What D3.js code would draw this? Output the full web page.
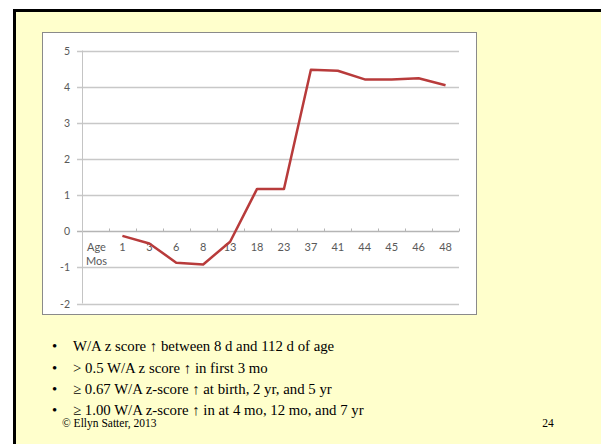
<!DOCTYPE html>
<html>
<head>
<meta charset="utf-8">
<script src="https://cdn.jsdelivr.net/npm/d3@7"></script>
<style>
  html, body { margin: 0; padding: 0; background: #fff; }
  svg { display: block; }
</style>
</head>
<body>
<svg id="slide" width="601" height="444"></svg>
<script>
// data
const categories = ["Age", "1", "3", "6", "8", "13", "18", "23", "37", "41", "44", "45", "46", "48"];
const zScores = [null, -0.13, -0.34, -0.87, -0.92, -0.29, 1.17, 1.17, 4.47, 4.44, 4.2, 4.2, 4.23, 4.04];
const yTicks = [-2, -1, 0, 1, 2, 3, 4, 5];
const bullets = [
  "W/A z score \u2191 between 8 d and 112 d of age",
  "> 0.5 W/A z score \u2191 in first 3 mo",
  "\u2265 0.67 W/A z-score \u2191 at birth, 2 yr, and 5 yr",
  "\u2265 1.00 W/A z-score \u2191 in at 4 mo, 12 mo, and 7 yr"
];
const footer = "\u00A9 Ellyn Satter, 2013";
const pageNo = "24";

const svg = d3.select("#slide");

// slide background with the black frame
svg.append("rect")
  .attr("x", 14.5).attr("y", 10.5)
  .attr("width", 620).attr("height", 460)
  .attr("fill", "#ffffcc")
  .attr("stroke", "#000")
  .attr("stroke-width", 3);

// chart box
svg.append("rect")
  .attr("x", 42.5).attr("y", 32.5)
  .attr("width", 434).attr("height", 282)
  .attr("fill", "#fff")
  .attr("stroke", "#8a8a8a")
  .attr("stroke-width", 1);

const x = d3.scaleBand().domain(categories).range([82, 459]);
const y = d3.scaleLinear().domain([-2, 5]).range([303.5, 50.5]);

const labelFont = "Lato, 'Open Sans', sans-serif";

// horizontal grid
svg.append("g")
  .selectAll("line")
  .data(yTicks)
  .join("line")
  .attr("x1", 77).attr("x2", 459)
  .attr("y1", d => Math.round(y(d)) + 0.5)
  .attr("y2", d => Math.round(y(d)) + 0.5)
  .attr("stroke", d => d === 0 ? "#b5b5b5" : "#c8c8c8")
  .attr("stroke-width", 1.3);

// vertical axis
svg.append("line")
  .attr("x1", 82.5).attr("x2", 82.5)
  .attr("y1", y(5)).attr("y2", y(-2))
  .attr("stroke", "#c4c4c4");

// y tick labels
svg.append("g")
  .selectAll("text")
  .data(yTicks)
  .join("text")
  .attr("x", 70)
  .attr("y", d => y(d) + 4)
  .attr("text-anchor", "end")
  .attr("font-family", labelFont)
  .attr("font-size", 10.5)
  .attr("fill", "#595959")
  .text(d => d);

// category ticks on the zero line
const zeroY = Math.round(y(0)) + 0.5;
svg.append("g")
  .selectAll("line")
  .data(categories.slice(1).concat(["end"]))
  .join("line")
  .attr("x1", (d, i) => Math.round(x.range()[0] + x.step() * (i + 1)) + 0.5)
  .attr("x2", (d, i) => Math.round(x.range()[0] + x.step() * (i + 1)) + 0.5)
  .attr("y1", zeroY - 3).attr("y2", zeroY)
  .attr("stroke", "#b5b5b5");

// category labels
svg.append("g")
  .selectAll("text")
  .data(categories)
  .join("text")
  .attr("x", d => x(d) + x.bandwidth() / 2 + (d === "Age" ? 1 : 0))
  .attr("y", y(0) + 20)
  .attr("text-anchor", "middle")
  .attr("font-family", labelFont)
  .attr("font-size", 11)
  .attr("fill", "#595959")
  .text(d => d);

svg.append("text")
  .attr("x", x("Age") + x.bandwidth() / 2 + 1)
  .attr("y", y(0) + 34)
  .attr("text-anchor", "middle")
  .attr("font-family", labelFont)
  .attr("font-size", 11)
  .attr("fill", "#595959")
  .text("Mos");

// the z-score line
const points = categories.map((c, i) => ({ c, v: zScores[i] }));
const line = d3.line()
  .defined(d => d.v !== null)
  .x(d => x(d.c) + x.bandwidth() / 2)
  .y(d => y(d.v));

svg.append("path")
  .datum(points)
  .attr("fill", "none")
  .attr("stroke", "#b83b3b")
  .attr("stroke-width", 2.5)
  .attr("stroke-linejoin", "round")
  .attr("d", line);

// bullet text
const serif = "'Liberation Serif', 'Times New Roman', serif";
const bulletY = [351, 373, 394, 415];
const bl = svg.append("g");
bl.selectAll("text.dot")
  .data(bullets)
  .join("text")
  .attr("class", "dot")
  .attr("x", 52)
  .attr("y", (d, i) => bulletY[i])
  .attr("font-family", serif)
  .attr("font-size", 14.8)
  .attr("fill", "#000")
  .text("\u2022");
bl.selectAll("text.line")
  .data(bullets)
  .join("text")
  .attr("class", "line")
  .attr("x", 73)
  .attr("y", (d, i) => bulletY[i])
  .attr("font-family", serif)
  .attr("font-size", 14.8)
  .attr("fill", "#000")
  .text(d => d);

svg.append("text")
  .attr("x", 62)
  .attr("y", 427)
  .attr("font-family", serif)
  .attr("font-size", 11.5)
  .attr("fill", "#000")
  .text(footer);

svg.append("text")
  .attr("x", 548)
  .attr("y", 427)
  .attr("text-anchor", "middle")
  .attr("font-family", serif)
  .attr("font-size", 11.5)
  .attr("fill", "#000")
  .text(pageNo);
</script>
</body>
</html>
